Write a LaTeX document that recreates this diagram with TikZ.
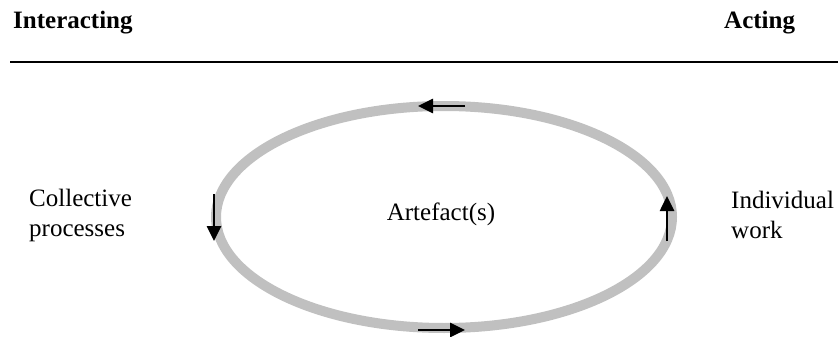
\documentclass[tikz,border=0pt]{standalone}
\usepackage{fontspec}
\setmainfont{Liberation Serif}
\usetikzlibrary{arrows.meta}
\definecolor{ringgray}{RGB}{192,192,192}
\tikzset{
  label/.style={inner sep=0pt, font=\fontsize{25}{30}\selectfont, align=left},
  heading/.style={inner sep=0pt, font=\fontsize{25}{30}\selectfont\bfseries},
  flow/.style={line width=2.6pt, -{Triangle[length=15pt,width=14pt]}},
  ring/.style={draw=ringgray, line width=10pt},
}
\begin{document}
\begin{tikzpicture}[x=1pt,y=-1pt]
  \useasboundingbox (0,0) rectangle (838,337);
  % column headings and rule
  \node[heading, anchor=west] (inter) at (13,23) {Interacting};
  \node[heading, anchor=west] (act) at (724,23) {Acting};
  \coordinate (ruleL) at (10,62);
  \coordinate (ruleR) at (838,62);
  \draw[line width=2pt] (ruleL) -- (ruleR);
  % the cycle around the artefact
  \draw[ring] (444,217) ellipse [x radius=228, y radius=111];
  \node[label] (art) at (441,214) {Artefact(s)};
  \node[label, anchor=west] (coll) at (29,215) {Collective\\processes};
  \node[label, anchor=west] (indiv) at (731,215) {Individual\\work};
  % direction of the cycle
  \coordinate (t1) at (465,106); \coordinate (t2) at (418,106);
  \coordinate (l1) at (214,194); \coordinate (l2) at (214,241);
  \coordinate (b1) at (418,330); \coordinate (b2) at (465,330);
  \coordinate (r1) at (667,241); \coordinate (r2) at (667,196);
  \draw[flow] (t1) -- (t2);
  \draw[flow] (l1) -- (l2);
  \draw[flow] (b1) -- (b2);
  \draw[flow] (r1) -- (r2);
\end{tikzpicture}
\end{document}
